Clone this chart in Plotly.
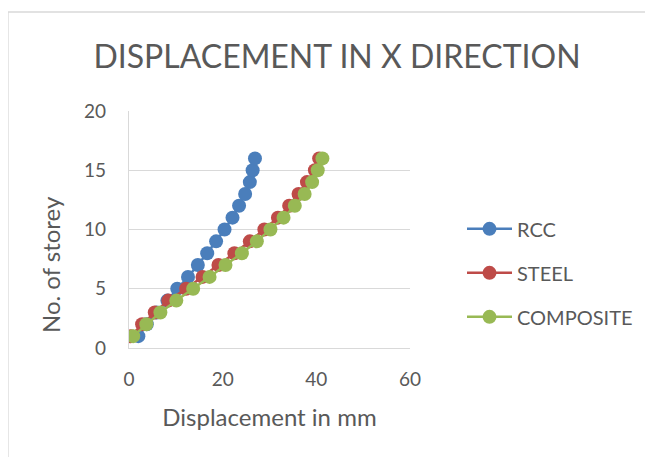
import plotly.graph_objects as go

storeys = list(range(1, 17))
rcc = [2.0, 3.8, 5.9, 8.2, 10.3, 12.6, 14.7, 16.7, 18.6, 20.4, 22.1, 23.5, 24.8, 25.8, 26.4, 26.9]
steel = [0.4, 2.8, 5.5, 8.4, 12.2, 15.7, 19.1, 22.5, 25.8, 28.9, 31.8, 34.2, 36.2, 38.0, 39.7, 40.6]
composite = [0.9, 3.7, 6.7, 10.1, 13.7, 17.2, 20.6, 24.1, 27.3, 30.2, 33.0, 35.4, 37.5, 39.1, 40.3, 41.3]
series_names = ["RCC", "STEEL", "COMPOSITE"]
colors = ["#4a7ebb", "#be4b48", "#98b954"]

FONT = "Lato"
TXT = "#595959"

fig = go.Figure()
for name, vals, col in zip(series_names, [rcc, steel, composite], colors):
    fig.add_trace(go.Scatter(
        x=vals, y=storeys, name=name, mode="lines+markers",
        line=dict(color=col, width=2.5),
        marker=dict(color=col, size=14),
        legendgroup=name,
    ))

# page body adds an 8px offset; work in figure coords = screen - 8
OFF = 8
W, H = 653 - OFF, 457 - OFF
L, R, T, B = 129 - OFF, 410 - OFF, 111 - OFF, 348 - OFF
pw, ph = R - L, B - T

fig.update_layout(
    width=W, height=H,
    margin=dict(l=L, r=W - R, t=T, b=H - B, pad=0, autoexpand=False),
    paper_bgcolor="white", plot_bgcolor="white",
    font=dict(family=FONT, color=TXT),
    title=dict(text="DISPLACEMENT IN X DIRECTION", x=(337 - OFF) / W, xanchor="center",
               y=1 - (57 - OFF) / H, yanchor="middle",
               font=dict(family=FONT, size=32, color=TXT)),
    xaxis=dict(range=[0, 60], tickvals=[0, 20, 40, 60], showgrid=False, automargin=False,
               showline=True, linecolor="#d9d9d9", linewidth=1.3, zeroline=False,
               tickfont=dict(size=19, color=TXT), ticklabelstandoff=14,
               title=dict(text="Displacement in mm", font=dict(size=24, color=TXT), standoff=20)),
    yaxis=dict(range=[0, 20], tickvals=[0, 5, 10, 15, 20], showgrid=True, automargin=False,
               gridcolor="#d9d9d9", gridwidth=1.3,
               showline=True, linecolor="#d9d9d9", linewidth=1.3, zeroline=False,
               tickfont=dict(size=19, color=TXT), ticklabelstandoff=18),
    legend=dict(x=(454 - 121) / pw, xanchor="left", y=0.585, yanchor="top",
                font=dict(size=20, color=TXT), tracegroupgap=15,
                bgcolor="rgba(0,0,0,0)", itemwidth=45),
    annotations=[dict(text="No. of storey", textangle=-90, showarrow=False,
                      xref="paper", yref="paper",
                      x=(50 - OFF - L) / pw, y=(B - (265 - OFF)) / ph,
                      xanchor="center", yanchor="middle",
                      font=dict(size=24, color=TXT, family=FONT))],
    shapes=[dict(type="rect", xref="paper", yref="paper",
                 x0=(8 - OFF - L) / pw, x1=(700 - L) / pw,
                 y0=(B - 500) / ph, y1=(B - (12 - OFF)) / ph,
                 line=dict(color="#d9d9d9", width=1.3), fillcolor="rgba(0,0,0,0)", layer="below")],
)

fig.write_html("out.html")
